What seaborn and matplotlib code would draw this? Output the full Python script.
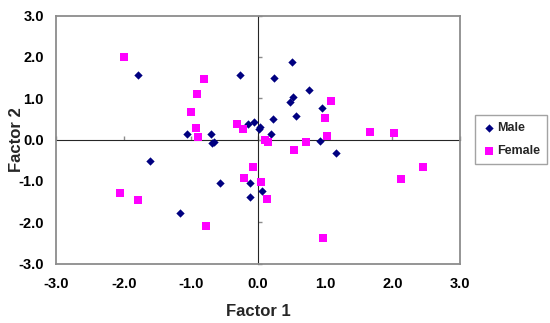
import numpy as np
import pandas as pd
import matplotlib
matplotlib.use("Agg")
import matplotlib.pyplot as plt
import seaborn as sns

# factor scores
male_x = [-1.79, -0.27, -1.05, -0.70, -0.69, -0.65, -0.15, -0.06, 0.03, 0.02, 0.20, 0.23, 0.24, 0.50,
          0.52, 0.48, 0.56, 0.76, 0.95, 0.93, 1.16, -1.61, -0.57, -0.12, -0.12, 0.06, -1.16]
male_y = [1.56, 1.56, 0.14, 0.14, -0.09, -0.07, 0.38, 0.43, 0.31, 0.26, 0.13, 0.50, 1.48, 1.87,
          1.02, 0.91, 0.56, 1.20, 0.76, -0.03, -0.32, -0.53, -1.06, -1.06, -1.38, -1.24, -1.78]
female_x = [-2.00, -0.81, -0.91, -1.00, -0.92, -0.89, -0.31, -0.22, 1.08, 1.00, 1.02, 1.67, 2.03, 0.72,
            0.11, 0.15, 0.53, -0.08, -0.21, 0.05, 0.13, 0.97, 2.13, 2.46, -2.06, -1.78, -0.77]
female_y = [2.01, 1.47, 1.11, 0.67, 0.27, 0.06, 0.38, 0.26, 0.94, 0.52, 0.09, 0.19, 0.17, -0.05,
            -0.01, -0.06, -0.24, -0.66, -0.93, -1.02, -1.44, -2.38, -0.95, -0.67, -1.29, -1.46, -2.09]

ticks = [-3, -2, -1, 0, 1, 2, 3]
tick_labels = ["-3.0", "-2.0", "-1.0", "0.0", "1.0", "2.0", "3.0"]

df = pd.DataFrame({
    "f1": male_x + female_x,
    "f2": male_y + female_y,
    "sex": ["Male"] * len(male_x) + ["Female"] * len(female_x),
})

sns.set_style("white")
plt.rcParams["font.family"] = ["Liberation Sans", "DejaVu Sans"]
plt.rcParams["font.weight"] = "bold"
plt.rcParams["axes.unicode_minus"] = False

grey = "#8c8c8c"
fig = plt.figure(figsize=(5.5, 3.23), dpi=100)
ax = fig.add_axes([0.1027, 0.1842, 0.7328, 0.7672])

sns.scatterplot(data=df[df.sex == "Male"], x="f1", y="f2", marker="D", s=18, color="#000080",
                linewidth=0, label="Male", ax=ax)
sns.scatterplot(data=df[df.sex == "Female"], x="f1", y="f2", marker="s", s=26, color="#ff00ff",
                linewidth=0, label="Female", ax=ax)

ax.set_xlim(-3, 3)
ax.set_ylim(-3, 3)
ax.set_xticks(ticks, labels=tick_labels)
ax.set_yticks(ticks, labels=tick_labels)
ax.tick_params(length=0, labelsize=10.5, colors="black")
ax.tick_params(axis="x", pad=10)
ax.tick_params(axis="y", pad=9)
for sp in ax.spines.values():
    sp.set_color(grey)
    sp.set_linewidth(1.3)

# Excel style axes crossing at zero
secx = ax.secondary_xaxis(0.5)
secx.set_xticks(ticks)
secx.set_xticklabels([])
secx.tick_params(length=3, width=1, color=grey, direction="out")
secx.spines["bottom"].set_color(grey)
secx.spines["bottom"].set_linewidth(1.3)
secy = ax.secondary_yaxis(0.5)
secy.set_yticks(ticks)
secy.set_yticklabels([])
secy.tick_params(length=3, width=1, color=grey, direction="out")
secy.spines["left"].set_color(grey)
secy.spines["left"].set_linewidth(1.3)

ax.set_xlabel("Factor 1", fontsize=12, fontweight="bold", labelpad=9)
ax.set_ylabel("Factor 2", fontsize=12, fontweight="bold", labelpad=-4)

leg = ax.legend(loc="center left", bbox_to_anchor=(1.024, 0.5), frameon=True, fancybox=False,
                fontsize=9, handletextpad=0.1, handlelength=1.0, borderpad=0.6,
                labelspacing=0.85, markerscale=1.0)
leg.get_frame().set_edgecolor(grey)
leg.get_frame().set_linewidth(1.0)

fig.savefig("out.png", dpi=100)
